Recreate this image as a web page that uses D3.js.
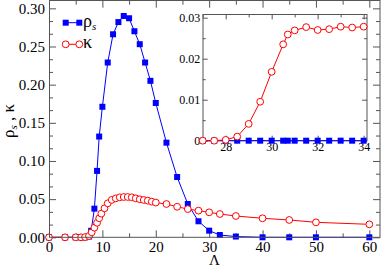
<!DOCTYPE html>
<html><head><meta charset="utf-8">
<script src="https://cdn.jsdelivr.net/npm/d3@7"></script>
</head><body style="margin:0">
<script>
// ---------- data ----------
const rhoX = [0,3,5,6,6.75,7.5,7.9,8.5,9,9.4,10,11,12,13,14,15,16,17,18,19,20,22,24,26,28,30,32,35,40,45,50,60];
const rhoY = [0,0,0,0,0,0.001,0.0085,0.0375,0.087,0.132,0.171,0.229,0.266,0.282,0.290,0.287,0.270,0.253,0.229,0.205,0.176,0.124,0.079,0.0436,0.021,0.0087,0.003,0.001,0,0,0,0];
const kapX = [0,3,5,6,6.75,7.5,8,8.5,9,9.4,9.8,10.4,11,11.75,12.5,13.25,14,14.75,15.5,16.25,17,17.75,18.5,19.25,20,22,24,26,28,30,32,35,40,45,50,60];
const kapY = [0,0,0,0,0.0003,0.0017,0.0065,0.0126,0.019,0.025,0.031,0.038,0.0445,0.049,0.051,0.0524,0.0528,0.0528,0.0524,0.051,0.0498,0.0489,0.048,0.0467,0.0455,0.0436,0.040,0.037,0.0349,0.0327,0.0305,0.0279,0.0249,0.0227,0.0196,0.017];
const inX = [27,27.5,28,28.5,29,29.5,30,30.5,30.7,31,31.5,32,32.5,33,33.5,34];
const inRho = [0,0,0,0,0,0,0,0,0,0,0,0,0,0,0,0];
const inKap = [0,0,0.0002,0.001,0.0041,0.0095,0.0168,0.0235,0.0259,0.0269,0.0277,0.0270,0.0272,0.0278,0.0276,0.0278];
const xTicks = [0,10,20,30,40,50,60];
const yTicks = [0,0.05,0.10,0.15,0.20,0.25,0.30];
const inXTicks = [28,30,32,34];
const inYTicks = [0,0.01,0.02,0.03];
const legendLabels = ["ρ","κ"];

const W=382,H=267;
const FF="Liberation Serif";
const svg=d3.select("body").append("svg").attr("width",W).attr("height",H).style("display","block")
  .attr("font-family",FF).style("font-family",FF);
const frameCol="#555";

function tx(sel,fs){ return sel.attr("font-family",FF).style("font-family",FF).attr("font-size",fs).style("font-size",fs+"px"); }

function panel(g,x,y,opt){
  const [x0,x1]=x.range(), [y0,y1]=y.range();
  const mk=(axisFn,sc,vals,size,tr)=>{
    const a=g.append("g").attr("transform",tr).call(axisFn(sc).tickValues(vals).tickSize(-size).tickFormat(""));
    a.select(".domain").remove(); a.selectAll("line").attr("stroke",frameCol); a.selectAll("text").remove();
  };
  mk(d3.axisBottom,x,opt.xMinor,opt.minor,`translate(0,${y0})`);
  mk(d3.axisTop,x,opt.xMinor,opt.minor,`translate(0,${y1})`);
  mk(d3.axisLeft,y,opt.yMinor,opt.minor,`translate(${x0},0)`);
  mk(d3.axisRight,y,opt.yMinor,opt.minor,`translate(${x1},0)`);
  mk(d3.axisTop,x,opt.xMajor,opt.major,`translate(0,${y1})`);
  mk(d3.axisRight,y,opt.yMajor,opt.major,`translate(${x1},0)`);
  const gb=g.append("g").attr("transform",`translate(0,${y0})`)
   .call(d3.axisBottom(x).tickValues(opt.xMajor).tickSize(-opt.major).tickPadding(opt.xPad).tickFormat(opt.xFmt));
  tx(gb,opt.fs); gb.select(".domain").remove(); gb.selectAll("line").attr("stroke",frameCol);
  tx(gb.selectAll("text"),opt.fs).attr("fill","#000");
  const gl=g.append("g").attr("transform",`translate(${x0},0)`)
   .call(d3.axisLeft(y).tickValues(opt.yMajor).tickSize(-opt.major).tickPadding(opt.yPad).tickFormat(opt.yFmt));
  tx(gl,opt.fs); gl.select(".domain").remove(); gl.selectAll("line").attr("stroke",frameCol);
  tx(gl.selectAll("text"),opt.fs).attr("fill","#000");
}

function series(g,x,y,xs,ys,kind,color){
  const pts=xs.map((v,i)=>[v,ys[i]]);
  g.append("path").datum(pts).attr("fill","none").attr("stroke",color).attr("stroke-width",1)
   .attr("d",d3.line().x(d=>x(d[0])).y(d=>y(d[1])));
  if(kind==="sq"){
    g.selectAll(null).data(pts).enter().append("rect")
     .attr("x",d=>x(d[0])-3).attr("y",d=>y(d[1])-3).attr("width",6).attr("height",6).attr("fill",color);
  } else {
    g.selectAll(null).data(pts).enter().append("circle")
     .attr("cx",d=>x(d[0])).attr("cy",d=>y(d[1])).attr("r",3.4).attr("fill","#fff").attr("stroke",color).attr("stroke-width",1);
  }
}

// ---------- main ----------
const x=d3.scaleLinear([0,62],[49,380]);
const y=d3.scaleLinear([0,0.31],[237.3,0.7]);
const gm=svg.append("g");
gm.append("rect").attr("x",49).attr("y",0.7).attr("width",331).attr("height",236.6).attr("fill","#fff");
panel(gm,x,y,{xMajor:xTicks,xMinor:d3.range(5,62,10),yMajor:yTicks,yMinor:d3.range(0,0.31,0.05/3).filter(v=>Math.abs(v/0.05-Math.round(v/0.05))>0.01),
  major:7,minor:4,xPad:4,yPad:4,fs:15,xFmt:d3.format("d"),yFmt:d3.format(".2f")});
series(gm,x,y,rhoX,rhoY,"sq","#0000ff");
series(gm,x,y,kapX,kapY,"ci","#ff0000");
gm.append("rect").attr("x",49.5).attr("y",0.5).attr("width",330.5).attr("height",236.8).attr("fill","none").attr("stroke",frameCol);

// legend
const lg=gm.append("g");
[[22.7,"#0000ff","sq"],[44.3,"#ff0000","ci"]].forEach(([ly,c,k])=>{
  lg.append("line").attr("x1",65.7).attr("x2",79.3).attr("y1",ly).attr("y2",ly).attr("stroke",c);
  [65.7,79.3].forEach(lx=>{
    if(k==="sq") lg.append("rect").attr("x",lx-3).attr("y",ly-3).attr("width",6).attr("height",6).attr("fill",c);
    else lg.append("circle").attr("cx",lx).attr("cy",ly).attr("r",3.4).attr("fill","#fff").attr("stroke",c);
  });
});
const t1=tx(lg.append("text").attr("x",83).attr("y",26.5),18);
t1.append("tspan").text(legendLabels[0]);
t1.append("tspan").attr("font-size",11).style("font-size","11px").attr("font-style","italic").attr("dy",3).text("s");
tx(lg.append("text").attr("x",83).attr("y",48.3),18).text(legendLabels[1]);

// axis labels
tx(svg.append("text").attr("x",214.5).attr("y",265).attr("text-anchor","middle"),15).text("Λ");
const yl=tx(svg.append("text").attr("transform","translate(14,121) rotate(-90)").attr("text-anchor","middle"),17);
yl.append("tspan").text("ρ");
yl.append("tspan").attr("font-size",11).style("font-size","11px").attr("font-style","italic").attr("dy",3).text("s");
yl.append("tspan").attr("dy",-3).text(" , κ");

// ---------- inset ----------
const xi=d3.scaleLinear([27,34.15],[202.7,367.1]);
const yi=d3.scaleLinear([0,0.0308],[140.7,14.4]);
const gi=svg.append("g");
gi.append("rect").attr("x",202.7).attr("y",14.4).attr("width",164.4).attr("height",126.3).attr("fill","#fff");
panel(gi,xi,yi,{xMajor:inXTicks,xMinor:[27,29,31,33],yMajor:inYTicks,yMinor:[0.005,0.015,0.025],
  major:5,minor:3,xPad:2,yPad:2.5,fs:12,xFmt:d3.format("d"),yFmt:v=>v===0?"0":d3.format(".2f")(v)});
gi.append("rect").attr("x",203).attr("y",14.5).attr("width",164).attr("height",126.2).attr("fill","none").attr("stroke",frameCol);
series(gi,xi,yi,inX,inRho,"sq","#0000ff");
series(gi,xi,yi,inX,inKap,"ci","#ff0000");
</script>
</body></html>
